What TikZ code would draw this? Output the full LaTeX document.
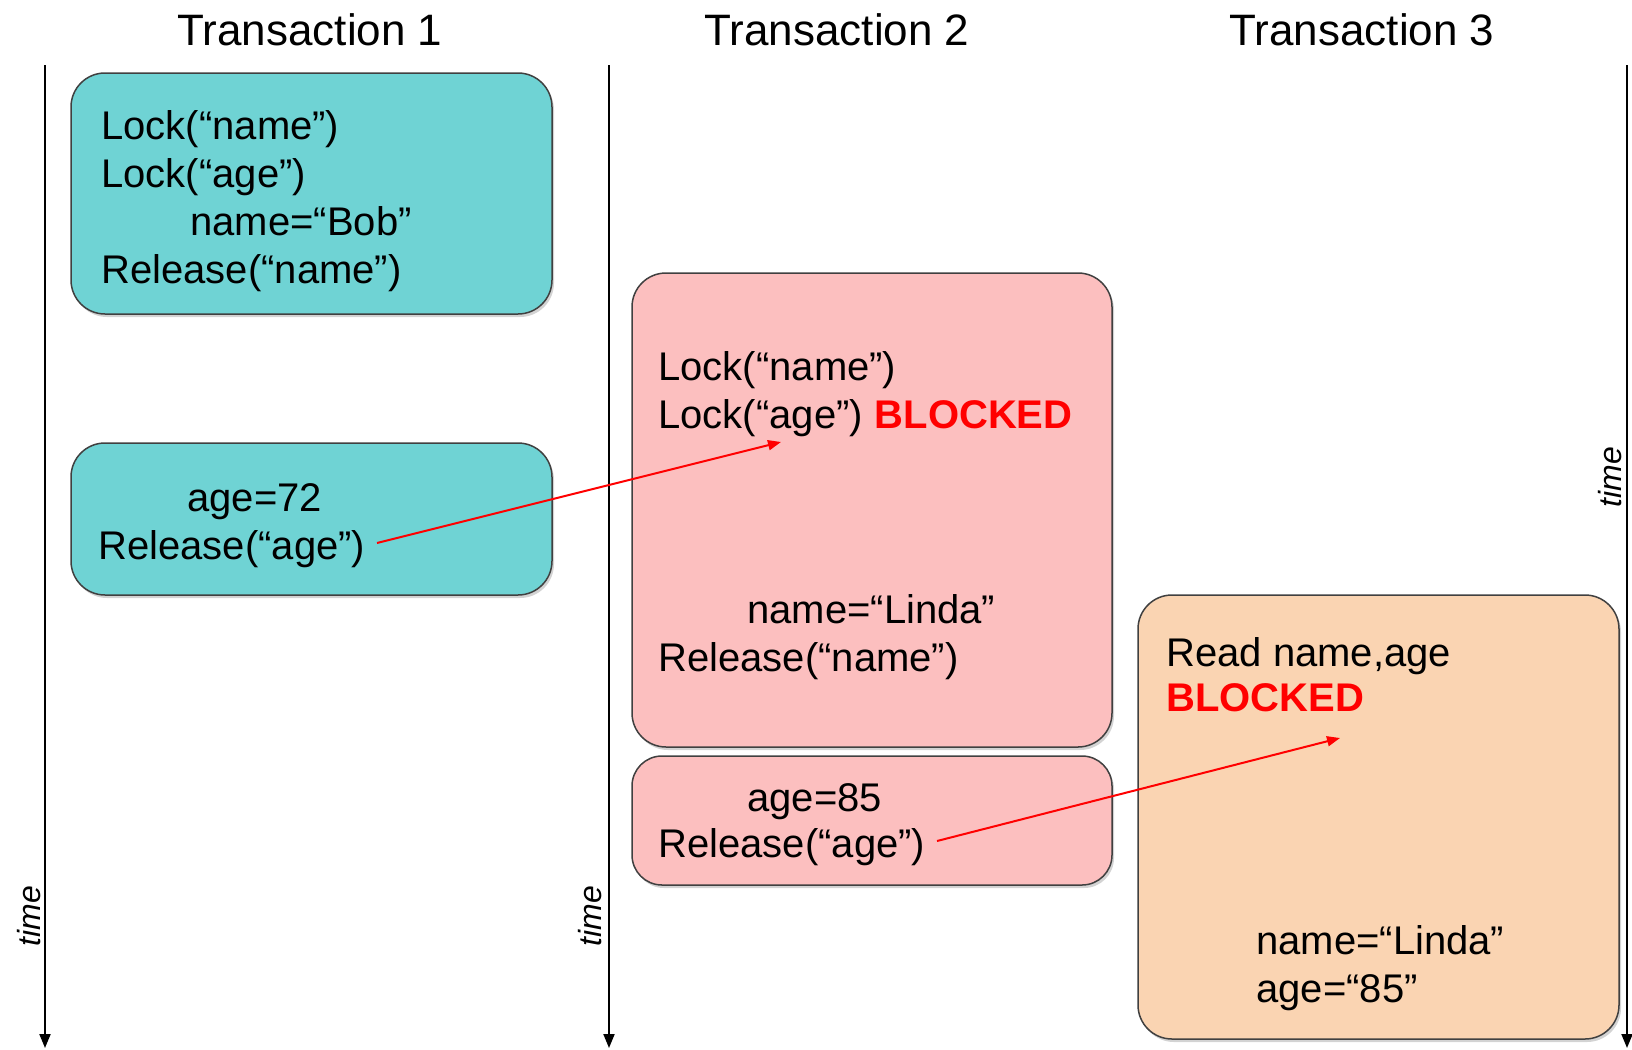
\documentclass[tikz,border=0pt]{standalone}
\usepackage{fontspec}
\setmainfont{Liberation Sans}
\usetikzlibrary{arrows.meta,shadows}
\definecolor{tealbox}{RGB}{111,211,212}
\definecolor{pinkbox}{RGB}{252,191,191}
\definecolor{peachbox}{RGB}{250,212,178}
\definecolor{boxedge}{RGB}{64,64,64}
\definecolor{blockred}{RGB}{255,0,0}
\begin{document}
\begin{tikzpicture}[x=0.5pt,y=-0.5pt,
  box/.style={draw=boxedge,line width=0.75pt,rounded corners=17pt,anchor=north west,
    inner sep=0pt,outer sep=0pt,
    drop shadow={shadow xshift=1pt,shadow yshift=-1.5pt,opacity=0.35}},
  txt/.style={anchor=base west,inner sep=0pt,font=\fontsize{20pt}{24pt}\selectfont},
  blk/.style={txt,text=blockred,font=\fontsize{20pt}{24pt}\selectfont\bfseries},
  ttl/.style={anchor=base,inner sep=0pt,font=\fontsize{22pt}{26pt}\selectfont},
  timelbl/.style={rotate=90,inner sep=0pt,font=\fontsize{16pt}{19pt}\selectfont\itshape},
  timeline/.style={line width=1pt,-{Triangle[length=7pt,width=5.5pt]}},
  msg/.style={blockred,line width=1pt,-{Triangle[length=6.5pt,width=5pt]}}]
\useasboundingbox (0,0) rectangle (1632,1049);

% titles
\node[ttl] (h1) at (310,45) {Transaction 1};
\node[ttl] (h2) at (837,45) {Transaction 2};
\node[ttl] (h3) at (1362,45) {Transaction 3};

% timelines
\coordinate (l1s) at (45,65);   \coordinate (l1e) at (45,1048);
\coordinate (l2s) at (609,65);  \coordinate (l2e) at (609,1048);
\coordinate (l3s) at (1627,65); \coordinate (l3e) at (1627,1048);
\draw[timeline] (l1s) -- (l1e);
\draw[timeline] (l2s) -- (l2e);
\draw[timeline] (l3s) -- (l3e);
\node[timelbl] (tm1) at (29,916) {time};
\node[timelbl] (tm2) at (590,916) {time};
\node[timelbl] (tm3) at (1610,477) {time};

% boxes
\node[box,fill=tealbox,minimum width=240.5pt,minimum height=120.5pt] (b1) at (71,73) {};
\node[box,fill=tealbox,minimum width=240.5pt,minimum height=76pt] (b1b) at (71,443) {};
\node[box,fill=pinkbox,minimum width=240pt,minimum height=237pt] (b2) at (632,273) {};
\node[box,fill=pinkbox,minimum width=240pt,minimum height=64.5pt,rounded corners=15pt] (b2b) at (632,756) {};
\node[box,fill=peachbox,minimum width=240.5pt,minimum height=222pt] (b3) at (1138,595) {};

% transaction 1 texts
\node[txt] (a1) at (101,139) {Lock(“name”)};
\node[txt] (a2) at (101,187) {Lock(“age”)};
\node[txt] (a3) at (190,235) {name=“Bob”};
\node[txt] (a4) at (101,283) {Release(“name”)};
\node[txt] (a5) at (187,511) {age=72};
\node[txt] (a6) at (98,559) {Release(“age”)};

% transaction 2 texts
\node[txt] (c1) at (658,380) {Lock(“name”)};
\node[txt] (c2) at (658,428) {Lock(“age”)};
\node[blk] (c2b) at ([xshift=5.5pt]c2.base east) {BLOCKED};
\node[txt] (c3) at (747,623) {name=“Linda”};
\node[txt] (c4) at (658,671) {Release(“name”)};
\node[txt] (c5) at (747,811) {age=85};
\node[txt] (c6) at (658,857) {Release(“age”)};

% transaction 3 texts
\node[txt] (d1) at (1166,666) {Read name,age};
\node[blk] (d2) at (1166,711) {BLOCKED};
\node[txt] (d3) at (1256,954) {name=“Linda”};
\node[txt] (d4) at (1256,1002) {age=“85”};

% messages
\coordinate (m1s) at (377,543);
\coordinate (m1e) at (781,442);
\coordinate (m2s) at (937,841);
\coordinate (m2e) at (1340,738);
\draw[msg] (m1s) -- (m1e);
\draw[msg] (m2s) -- (m2e);
\end{tikzpicture}
\end{document}
